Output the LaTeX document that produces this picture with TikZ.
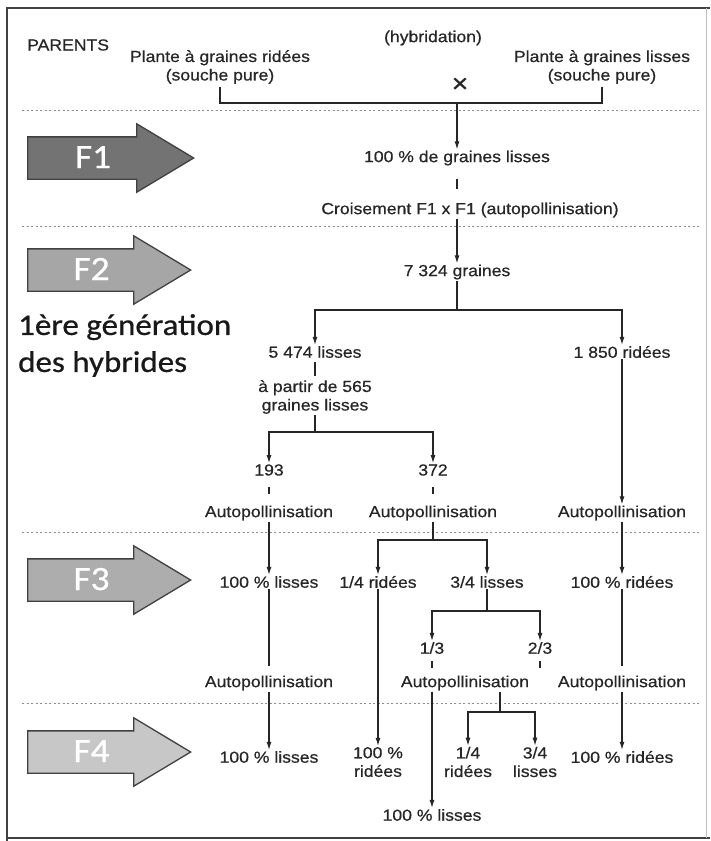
\documentclass[tikz,border=0pt]{standalone}
\usepackage{fontspec}
\setmainfont{Liberation Sans}[FakeStretch=1.1, FakeBold=0.6]
\newfontfamily\genfont{Carlito}[FakeStretch=1.1, FakeBold=0.7]
\usetikzlibrary{shapes,arrows.meta,positioning}
\tikzset{>={Latex[length=8pt,width=5pt]}, x=1pt, y=-1pt}
\tikzset{stub/.style={link, shorten <=#1, shorten >=#1}, stub/.default=8pt}
\tikzstyle{txt} = [align=center, inner sep=1pt, font=\fontsize{16}{18.5}\selectfont, text=black!85]
\tikzstyle{link} = [draw=black!85, line width=1.1pt]
\tikzstyle{divider} = [draw=black!45, line width=1pt, dash pattern=on 2pt off 2.5pt]
\tikzstyle{gen} = [single arrow, draw=black!75, line width=1.3pt, anchor=tail, minimum height=163pt, single arrow head extend=13pt, single arrow tip angle=62, inner ysep=10.5pt, text height=20pt, text depth=0pt, font=\genfont\fontsize{34}{34}\selectfont, text=white]

\begin{document}
\begin{tikzpicture}
    \useasboundingbox (0,0) rectangle (710,841);
    % frame
    \draw[black!75, line width=2.5pt] (7,841) -- (7,8) -- (710,8);
    \draw[black!75, line width=2pt] (7,838) -- (710,838);
    \draw[black!25, line width=1pt] (706,8) -- (706,838);
    \foreach \y in {110,226,532,703} \draw[divider] (22,\y) -- (700,\y);

    % generations
    \node [gen, fill=black!55, minimum height=166pt] (genF1) at (27,158) {F1};
    \node [gen, fill=black!35] (genF2) at (27,270) {F2};
    \node [gen, fill=black!32] (genF3) at (27,580) {F3};
    \node [gen, fill=black!22] (genF4) at (27,752) {F4};
    \node [anchor=north west, align=left, inner sep=0pt, font=\genfont\fontsize{30}{37}\selectfont, text=black!90] (hybrides) at (18,314) {1ère génération\\des hybrides};

    % parents
    \node [txt, anchor=west] (parents) at (26,45) {PARENTS};
    \node [txt] (hyb) at (433,38) {(hybridation)};
    \node [txt] (pr) at (220,67) {Plante à graines ridées\\(souche pure)};
    \node [txt] (pl) at (602,67) {Plante à graines lisses\\(souche pure)};
    \node [txt, font=\fontsize{26}{26}\selectfont] (cross) at (460,85) {×};
    \coordinate (join) at (457,103);

    % F1, F2
    \node [txt] (lis100) at (457,158) {100 \% de graines lisses};
    \node [txt] (crois) at (470,210) {Croisement F1 x F1 (autopollinisation)};
    \node [txt] (graines) at (457,272) {7 324 graines};
    \coordinate (fork1) at (457,310);
    \node [txt] (lis5474) at (315,352) {5 474 lisses};
    \node [txt] (rid1850) at (622,352) {1 850 ridées};
    \node [txt] (part) at (315,397) {à partir de 565\\graines lisses};
    \coordinate (fork2) at (315,432);
    \node [txt] (n193) at (269,470) {193};
    \node [txt] (n372) at (433,470) {372};
    \node [txt] (autoA) at (269,513) {Autopollinisation};
    \node [txt] (autoB) at (433,513) {Autopollinisation};
    \node [txt] (autoC) at (622,513) {Autopollinisation};

    % F3
    \coordinate (fork3) at (433,540);
    \node [txt] (lisF3) at (269,582) {100 \% lisses};
    \node [txt] (ridQ) at (378,582) {1/4 ridées};
    \node [txt] (lisQ) at (487,582) {3/4 lisses};
    \node [txt] (ridF3) at (622,582) {100 \% ridées};
    \coordinate (fork4) at (487,611);
    \node [txt] (third) at (432,648) {1/3};
    \node [txt] (twothird) at (540,648) {2/3};
    \node [txt] (autoD) at (269,683) {Autopollinisation};
    \node [txt] (autoE) at (465,683) {Autopollinisation};
    \node [txt] (autoF) at (622,683) {Autopollinisation};

    % F4
    \coordinate (fork5) at (500,712);
    \node [txt] (lisF4) at (269,757) {100 \% lisses};
    \node [txt] (ridF4) at (378,762) {100 \%\\ridées};
    \node [txt] (ridQb) at (468,762) {1/4\\ridées};
    \node [txt] (lisQb) at (535,762) {3/4\\lisses};
    \node [txt] (ridF4b) at (622,757) {100 \% ridées};
    \node [txt] (lisEnd) at (432,815) {100 \% lisses};

    \draw [link, shorten <=2pt, shorten >=2pt] (pr.south) |- (join) -| (pl.south);
    \draw [link, ->] (join) -- (lis100);
    \draw [stub=12pt] (lis100) -- (lis100 |- crois.north);
    \draw [link, ->] (crois.south -| graines) -- (graines);
    \draw [link] (graines) -- (fork1);
    \draw [link, ->] (fork1) -| (lis5474);
    \draw [link, ->] (fork1) -| (rid1850);
    \draw [stub=3pt] (lis5474) -- (part);
    \draw [link] (part) -- (fork2);
    \draw [link, ->] (fork2) -| (n193);
    \draw [link, ->] (fork2) -| (n372);
    \draw [stub=10pt] (n193) -- (autoA);
    \draw [stub=10pt] (n372) -- (autoB);
    \draw [link, ->] (rid1850) -- (autoC);
    \draw [link, ->] (autoA) -- (lisF3);
    \draw [link] (autoB) -- (fork3);
    \draw [link, ->] (fork3) -| (ridQ);
    \draw [link, ->] (fork3) -| (lisQ);
    \draw [link, ->] (autoC) -- (ridF3);
    \draw [link, shorten >=8pt] (lisF3) -- (autoD);
    \draw [link, ->] (ridQ) -- (ridF4);
    \draw [link] (lisQ) -- (fork4);
    \draw [link, ->] (fork4) -| (third);
    \draw [link, ->] (fork4) -| (twothird);
    \draw [stub=6pt] (third) -- (third |- autoE.north);
    \draw [stub=6pt] (twothird) -- (twothird |- autoE.north);
    \draw [link, shorten >=8pt] (ridF3) -- (autoF);
    \draw [link, ->] (autoD) -- (lisF4);
    \draw [link, ->] (third |- autoE.south) -- (lisEnd);
    \draw [link] (autoE.south -| fork5) -- (fork5);
    \draw [link, ->] (fork5) -| (ridQb);
    \draw [link, ->] (fork5) -| (lisQb);
    \draw [link, ->] (autoF) -- (ridF4b);
\end{tikzpicture}
\end{document}
